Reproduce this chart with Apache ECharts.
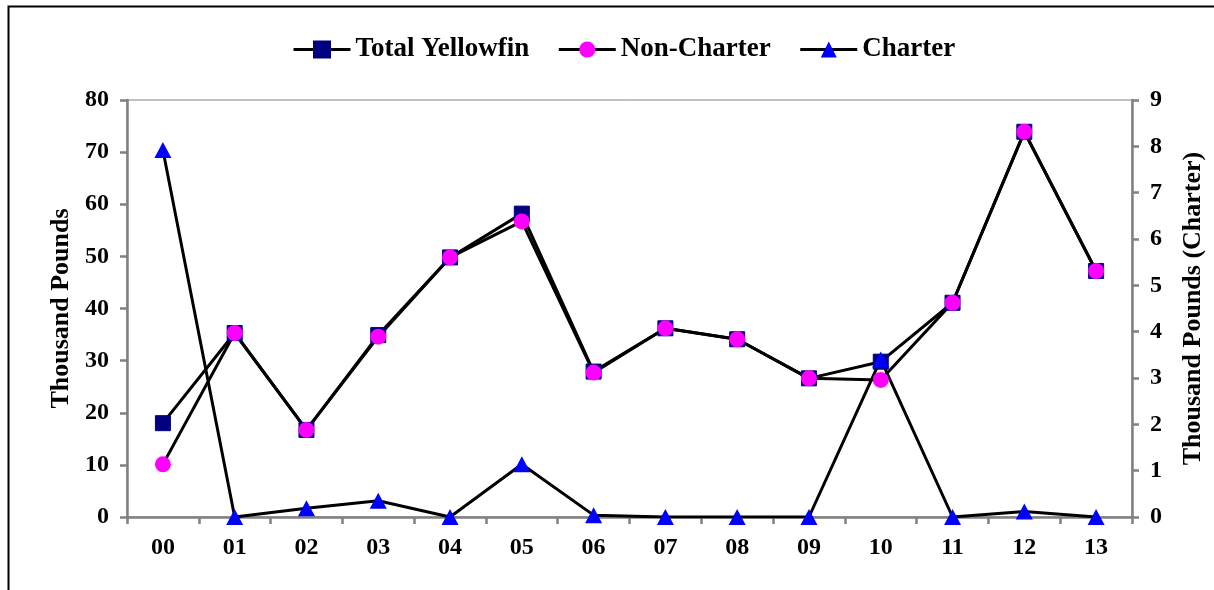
<!DOCTYPE html>
<html>
<head>
<meta charset="utf-8">
<script src="https://cdn.jsdelivr.net/npm/echarts@6/dist/echarts.min.js"></script>
<style>
html,body{margin:0;padding:0;background:#fff;}
#c{width:1214px;height:590px;}
</style>
</head>
<body>
<div id="c"></div>
<script>
const years = ['00','01','02','03','04','05','06','07','08','09','10','11','12','13'];
const totalYellowfin = [18.0, 35.3, 16.7, 34.9, 49.8, 58.2, 27.9, 36.2, 34.1, 26.6, 29.8, 41.1, 73.9, 47.2];
const nonCharter = [10.1, 35.3, 16.7, 34.6, 49.8, 56.7, 27.7, 36.2, 34.1, 26.6, 26.3, 41.1, 73.9, 47.2];
const charter = [7.92, 0, 0.19, 0.35, 0, 1.14, 0.04, 0, 0, 0, 3.4, 0, 0.12, 0];
const leftTicks = {min: 0, max: 80, interval: 10};
const rightTicks = {min: 0, max: 9, interval: 1};

const FONT = '"Liberation Serif", "Times New Roman", serif';
const chart = echarts.init(document.getElementById('c'), null, {renderer: 'canvas'});
const txt = {fontFamily: FONT, fontWeight: 'bold', color: '#000'};

chart.setOption({
  animation: false,
  backgroundColor: '#fff',
  graphic: [{
    type: 'rect', shape: {x: 8.5, y: 6.5, width: 1220, height: 600},
    style: {fill: 'none', stroke: '#000', lineWidth: 2}, silent: true
  }],
  legend: {
    top: 31, left: 287,
    itemWidth: 57, itemHeight: 20, itemGap: 28,
    lineStyle: {color: '#000', width: 3},
    textStyle: Object.assign({fontSize: 27}, txt),
    data: ['Total Yellowfin', 'Non-Charter', 'Charter']
  },
  grid: {left: 127, right: 81, top: 100, bottom: 73, show: true, borderColor: '#808080', borderWidth: 1, backgroundColor: 'transparent'},
  xAxis: {
    type: 'category', data: years, boundaryGap: true,
    axisLine: {lineStyle: {color: '#808080', width: 2.5}},
    axisTick: {show: true, alignWithLabel: false, length: 7, lineStyle: {color: '#808080', width: 2.5}},
    axisLabel: Object.assign({fontSize: 24, margin: 19}, txt),
    splitLine: {show: false}
  },
  yAxis: [{
    type: 'value', position: 'left', min: leftTicks.min, max: leftTicks.max, interval: leftTicks.interval,
    name: 'Thousand Pounds', nameLocation: 'middle', nameGap: 52, nameRotate: 90,
    nameTextStyle: Object.assign({fontSize: 26}, txt),
    axisLine: {show: true, lineStyle: {color: '#808080', width: 2.5}},
    axisTick: {show: true, length: 7, lineStyle: {color: '#808080', width: 2.5}},
    axisLabel: Object.assign({fontSize: 24, margin: 18}, txt),
    splitLine: {show: false}
  }, {
    type: 'value', position: 'right', min: rightTicks.min, max: rightTicks.max, interval: rightTicks.interval,
    name: 'Thousand Pounds (Charter)', nameLocation: 'middle', nameGap: 48, nameRotate: 90,
    nameTextStyle: Object.assign({fontSize: 26}, txt),
    axisLine: {show: true, lineStyle: {color: '#808080', width: 2.5}},
    axisTick: {show: true, length: 7, lineStyle: {color: '#808080', width: 2.5}},
    axisLabel: Object.assign({fontSize: 24, margin: 18}, txt),
    splitLine: {show: false}
  }],
  series: [{
    name: 'Total Yellowfin', type: 'line', yAxisIndex: 0, data: totalYellowfin,
    symbol: 'rect', symbolSize: 15, showAllSymbol: true,
    lineStyle: {color: '#000', width: 3}, itemStyle: {color: '#000080', borderColor: '#000080', borderWidth: 1},
    emphasis: {disabled: true}
  }, {
    name: 'Non-Charter', type: 'line', yAxisIndex: 0, data: nonCharter,
    symbol: 'circle', symbolSize: 16, showAllSymbol: true,
    lineStyle: {color: '#000', width: 3}, itemStyle: {color: '#FF00FF', borderWidth: 0},
    emphasis: {disabled: true}
  }, {
    name: 'Charter', type: 'line', yAxisIndex: 1, data: charter,
    symbol: 'triangle', symbolSize: [17, 16], showAllSymbol: true,
    lineStyle: {color: '#000', width: 3}, itemStyle: {color: '#0000FF', borderWidth: 0},
    emphasis: {disabled: true}
  }]
});
</script>
</body>
</html>
